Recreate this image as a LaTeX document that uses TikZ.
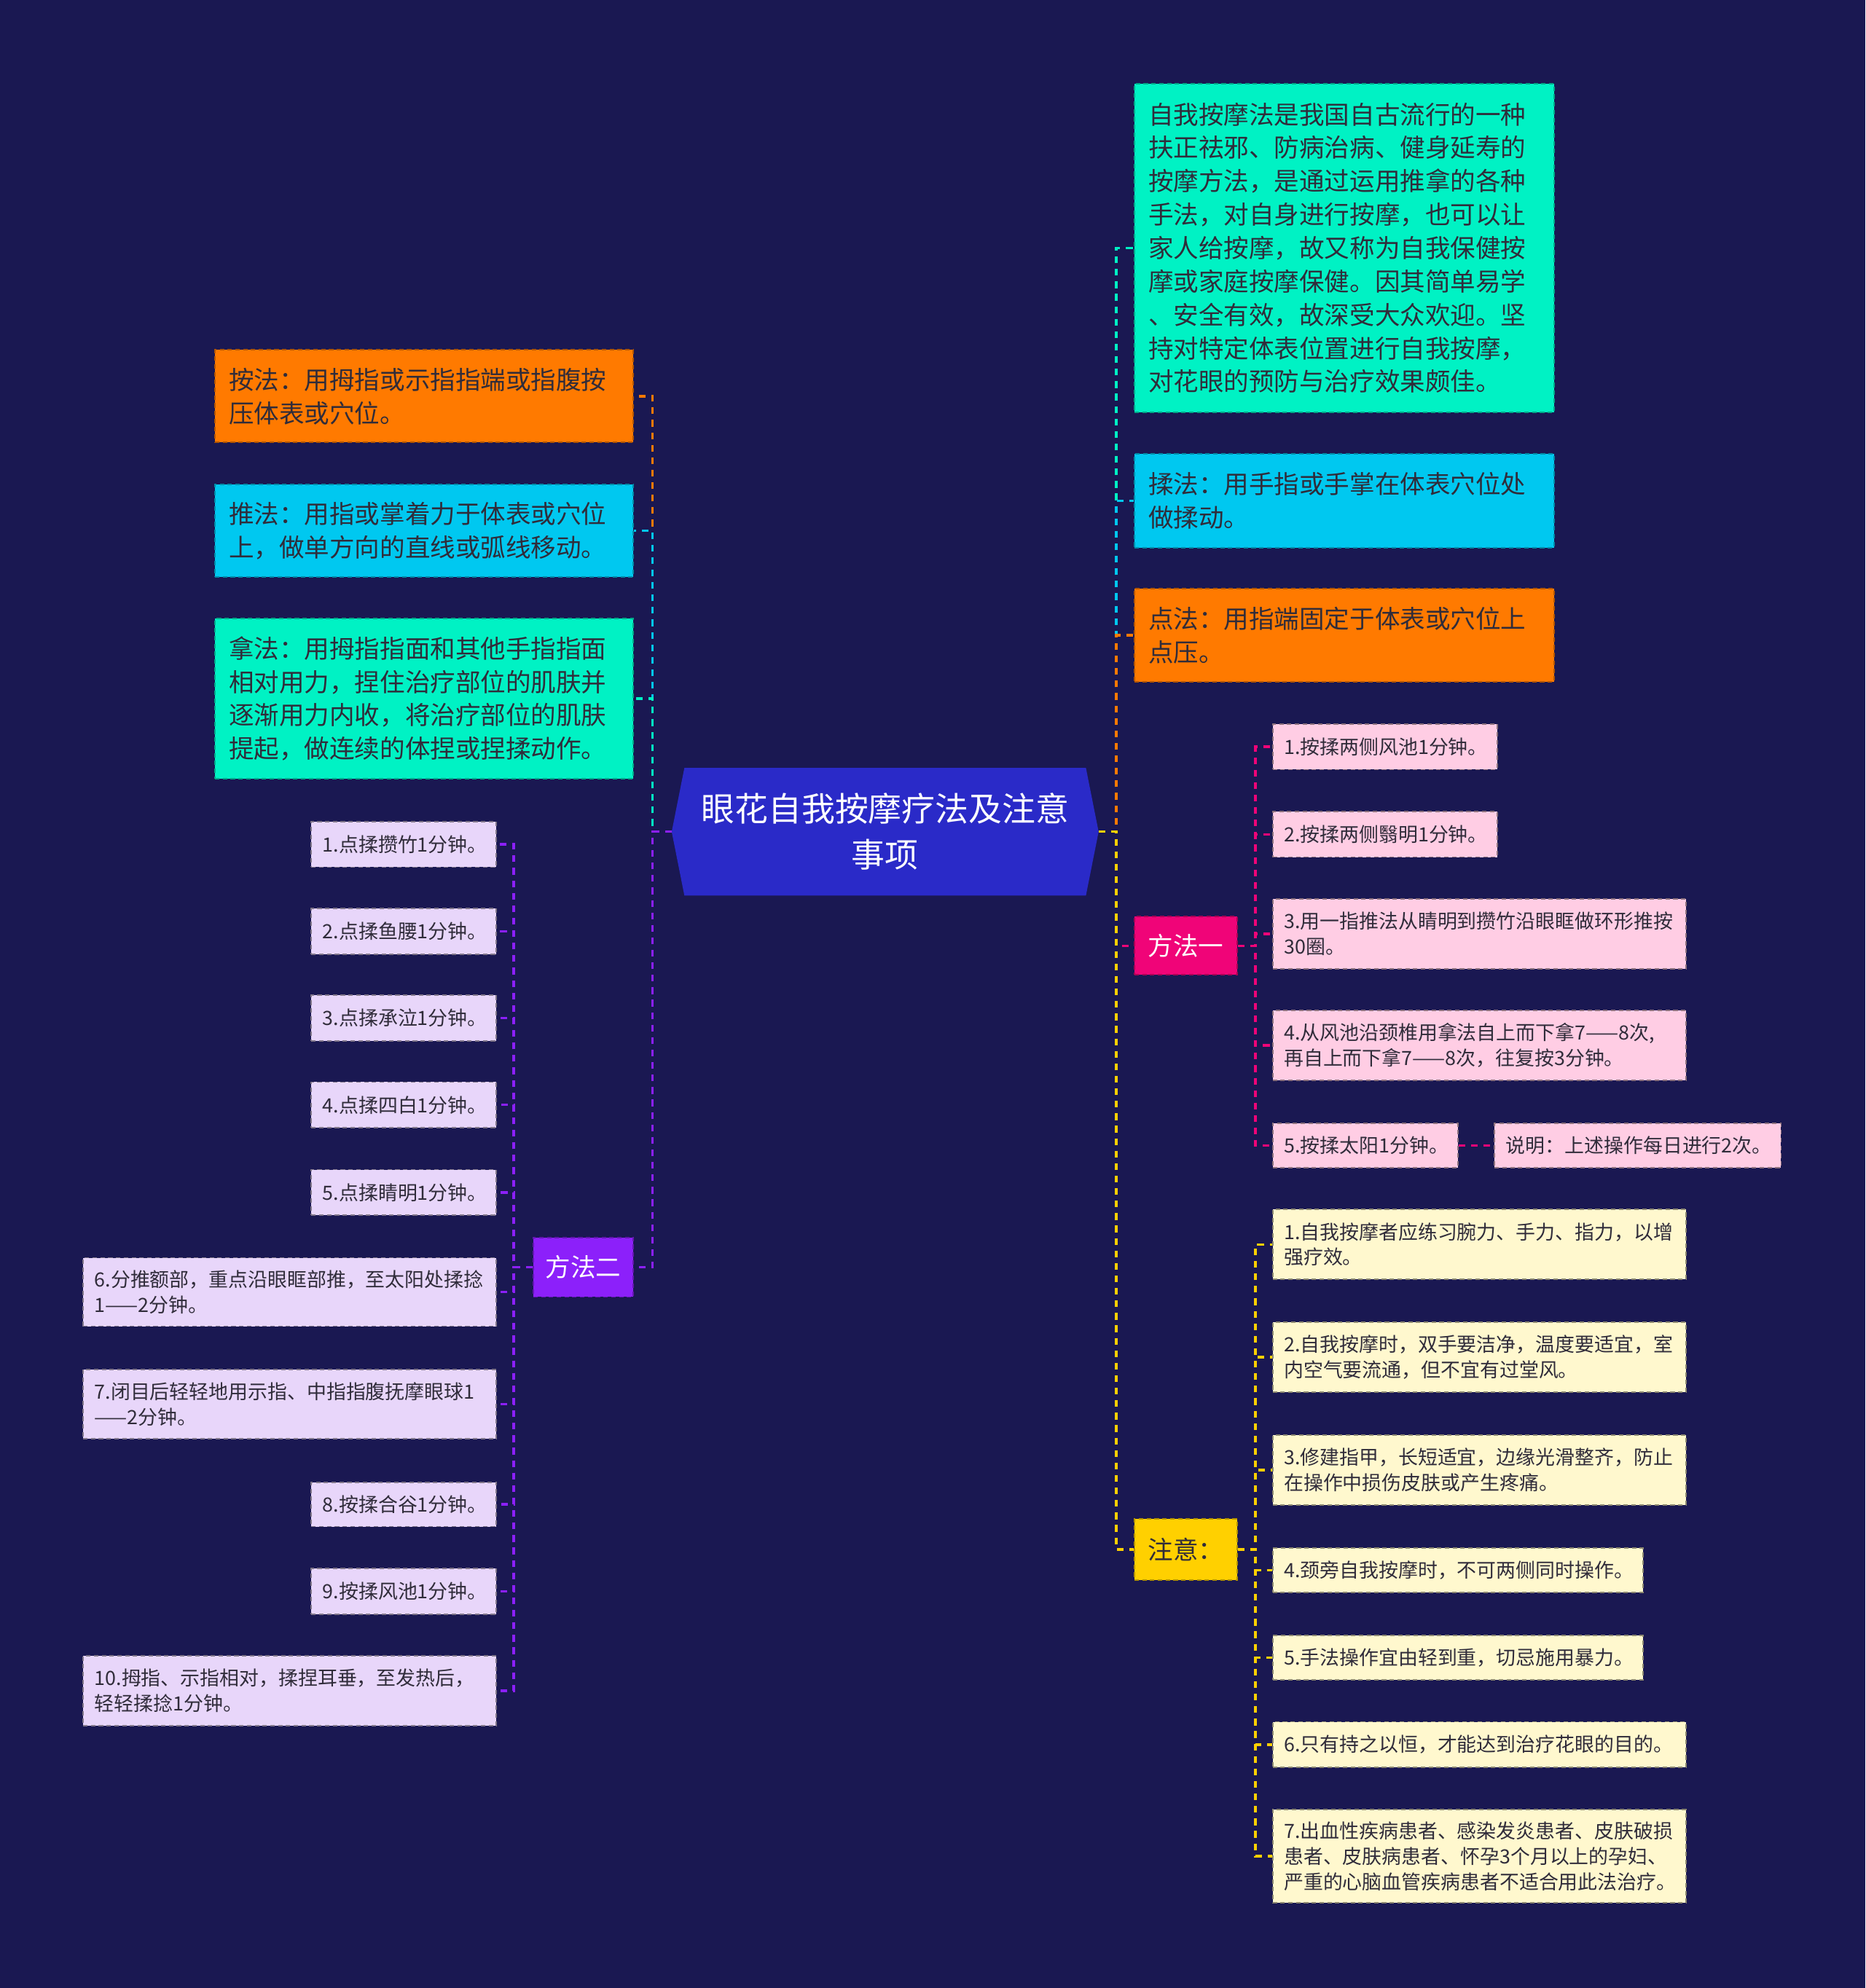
\documentclass[tikz,border=0pt]{standalone}
\usepackage{fontspec}
\setmainfont{Noto Sans CJK SC}
\usepackage{xcolor}
\usepackage{tikz}
\usetikzlibrary{backgrounds}
\definecolor{navybg}{RGB}{26, 24, 82}
\definecolor{hubblue}{RGB}{42, 42, 200}
\definecolor{fillorange}{RGB}{255, 122, 0}
\definecolor{fillcyan}{RGB}{0, 200, 240}
\definecolor{fillmint}{RGB}{0, 242, 196}
\definecolor{fillmagenta}{RGB}{240, 4, 120}
\definecolor{fillviolet}{RGB}{140, 32, 250}
\definecolor{fillyellow}{RGB}{255, 208, 0}
\definecolor{paleviolet}{RGB}{232, 214, 250}
\definecolor{palepink}{RGB}{255, 205, 228}
\definecolor{paleyellow}{RGB}{255, 248, 206}
\definecolor{inkgray}{RGB}{48, 44, 58}
\tikzset{
  link/.style={draw=#1, line width=1.1pt, dash pattern=on 3pt off 2.6pt},
  bigbox/.style={draw=#1!70!black, fill=#1, line width=0.6pt, dash pattern=on 2pt off 1.5pt,
    inner xsep=0.22cm, inner ysep=0.1cm, text=inkgray, align=left, text width=6.18cm,
    font=\fontsize{11.3}{15}\selectfont},
  hubbox/.style={draw=#1!70!black, fill=#1, line width=0.6pt, dash pattern=on 2pt off 1.5pt,
    inner sep=0.1cm, minimum width=1.6cm, minimum height=0.93cm,
    font=\fontsize{11.3}{15}\selectfont},
  leafbox/.style={draw=#1!55!black, fill=#1, line width=0.6pt, dash pattern=on 2pt off 1.5pt,
    inner xsep=0.18cm, inner ysep=0.1cm, text=inkgray, align=left,
    font=\fontsize{8.8}{11.4}\selectfont}
}
\begin{document}
\begin{tikzpicture}[x=0.02cm, y=-0.02cm]
    \useasboundingbox (0,0) rectangle (1471,1568);
    % central topic
    \node[text=white, align=center, minimum width=6.72cm, minimum height=2cm, font=\fontsize{15}{20.5}\selectfont] (ctr) at (698,656) {眼花自我按摩疗法及注意\\事项};

    % left side: three techniques and method two
    \node[bigbox=fillorange, text width=6.16cm, minimum height=1.46cm, anchor=east] (anfa) at (500,312.5) {按法：用拇指或示指指端或指腹按\\压体表或穴位。};
    \node[bigbox=fillcyan, text width=6.16cm, minimum height=1.46cm, anchor=east] (tuifa) at (500,418.5) {推法：用指或掌着力于体表或穴位\\上，做单方向的直线或弧线移动。};
    \node[bigbox=fillmint, text width=6.16cm, minimum height=2.52cm, anchor=east] (nafa) at (500,551) {拿法：用拇指指面和其他手指指面\\相对用力，捏住治疗部位的肌肤并\\逐渐用力内收，将治疗部位的肌肤\\提起，做连续的体捏或捏揉动作。};
    \node[hubbox=fillviolet, text=white, minimum width=1.58cm, minimum height=0.94cm, anchor=east] (m2) at (500,999.5) {方法二};

    \node[leafbox=paleviolet, text width=2.56cm, minimum height=0.72cm, anchor=east] (b1) at (392,666) {1.点揉攒竹1分钟。};
    \node[leafbox=paleviolet, text width=2.56cm, minimum height=0.72cm, anchor=east] (b2) at (392,734.5) {2.点揉鱼腰1分钟。};
    \node[leafbox=paleviolet, text width=2.56cm, minimum height=0.72cm, anchor=east] (b3) at (392,803) {3.点揉承泣1分钟。};
    \node[leafbox=paleviolet, text width=2.56cm, minimum height=0.72cm, anchor=east] (b4) at (392,871.5) {4.点揉四白1分钟。};
    \node[leafbox=paleviolet, text width=2.56cm, minimum height=0.72cm, anchor=east] (b5) at (392,940.5) {5.点揉睛明1分钟。};
    \node[leafbox=paleviolet, text width=6.16cm, minimum height=1.08cm, anchor=east] (b6) at (392,1019) {6.分推额部，重点沿眼眶部推，至太阳处揉捻\\1——2分钟。};
    \node[leafbox=paleviolet, text width=6.16cm, minimum height=1.1cm, anchor=east] (b7) at (392,1107.5) {7.闭目后轻轻地用示指、中指指腹抚摩眼球1\\——2分钟。};
    \node[leafbox=paleviolet, text width=2.56cm, minimum height=0.7cm, anchor=east] (b8) at (392,1186.5) {8.按揉合谷1分钟。};
    \node[leafbox=paleviolet, text width=2.56cm, minimum height=0.72cm, anchor=east] (b9) at (392,1255) {9.按揉风池1分钟。};
    \node[leafbox=paleviolet, text width=6.16cm, minimum height=1.1cm, anchor=east] (b10) at (392,1333.5) {10.拇指、示指相对，揉捏耳垂，至发热后，\\轻轻揉捻1分钟。};

    % right side: intro, techniques, method one, notes
    \node[bigbox=fillmint, minimum height=5.18cm, anchor=west] (intro) at (894,195.5) {自我按摩法是我国自古流行的一种\\扶正祛邪、防病治病、健身延寿的\\按摩方法，是通过运用推拿的各种\\手法，对自身进行按摩，也可以让\\家人给按摩，故又称为自我保健按\\摩或家庭按摩保健。因其简单易学\\、安全有效，故深受大众欢迎。坚\\持对特定体表位置进行自我按摩，\\对花眼的预防与治疗效果颇佳。};
    \node[bigbox=fillcyan, minimum height=1.48cm, anchor=west] (roufa) at (894,395) {揉法：用手指或手掌在体表穴位处\\做揉动。};
    \node[bigbox=fillorange, minimum height=1.48cm, anchor=west] (dianfa) at (894,501) {点法：用指端固定于体表或穴位上\\点压。};
    \node[hubbox=fillmagenta, text=white, minimum width=1.62cm, minimum height=0.92cm, anchor=west] (m1) at (894,746) {方法一};
    \node[hubbox=fillyellow, text=inkgray, minimum width=1.62cm, minimum height=0.96cm, anchor=west] (zy) at (894,1222) {注意：};

    \node[leafbox=palepink, text width=3.18cm, minimum height=0.72cm, anchor=west] (a1) at (1003,589) {1.按揉两侧风池1分钟。};
    \node[leafbox=palepink, text width=3.18cm, minimum height=0.72cm, anchor=west] (a2) at (1003,658) {2.按揉两侧翳明1分钟。};
    \node[leafbox=palepink, text width=6.16cm, minimum height=1.1cm, anchor=west] (a3) at (1003,736.5) {3.用一指推法从睛明到攒竹沿眼眶做环形推按\\30圈。};
    \node[leafbox=palepink, text width=6.16cm, minimum height=1.1cm, anchor=west] (a4) at (1003,824.5) {4.从风池沿颈椎用拿法自上而下拿7——8次,\\再自上而下拿7——8次，往复按3分钟。};
    \node[leafbox=palepink, text width=2.56cm, minimum height=0.7cm, anchor=west] (a5) at (1003,903.5) {5.按揉太阳1分钟。};
    \node[leafbox=palepink, text width=4.16cm, minimum height=0.7cm, anchor=west] (note) at (1178,903.5) {说明：上述操作每日进行2次。};

    \node[leafbox=paleyellow, text width=6.16cm, minimum height=1.1cm, anchor=west] (c1) at (1003,981.5) {1.自我按摩者应练习腕力、手力、指力，以增\\强疗效。};
    \node[leafbox=paleyellow, text width=6.16cm, minimum height=1.1cm, anchor=west] (c2) at (1003,1070.5) {2.自我按摩时，双手要洁净，温度要适宜，室\\内空气要流通，但不宜有过堂风。};
    \node[leafbox=paleyellow, text width=6.16cm, minimum height=1.1cm, anchor=west] (c3) at (1003,1159.5) {3.修建指甲，长短适宜，边缘光滑整齐，防止\\在操作中损伤皮肤或产生疼痛。};
    \node[leafbox=paleyellow, text width=5.48cm, minimum height=0.7cm, anchor=west] (c4) at (1003,1238.5) {4.颈旁自我按摩时，不可两侧同时操作。};
    \node[leafbox=paleyellow, text width=5.48cm, minimum height=0.7cm, anchor=west] (c5) at (1003,1307.5) {5.手法操作宜由轻到重，切忌施用暴力。};
    \node[leafbox=paleyellow, text width=6.16cm, minimum height=0.72cm, anchor=west] (c6) at (1003,1376) {6.只有持之以恒，才能达到治疗花眼的目的。};
    \node[leafbox=paleyellow, text width=6.16cm, minimum height=1.48cm, anchor=west] (c7) at (1003,1464) {7.出血性疾病患者、感染发炎患者、皮肤破损\\患者、皮肤病患者、怀孕3个月以上的孕妇、\\严重的心脑血管疾病患者不适合用此法治疗。};

    % background and hexagon behind the central topic
    \begin{scope}[on background layer]
        \fill[navybg] (0,0) rectangle (1471,1568);
        \fill[hubblue] (ctr.west) -- ([xshift=0.2cm]ctr.north west) -- ([xshift=-0.2cm]ctr.north east) -- (ctr.east) -- ([xshift=-0.2cm]ctr.south east) -- ([xshift=0.2cm]ctr.south west) -- cycle;
    \end{scope}

    % connectors, left
    \draw[link=fillorange] (ctr.west) -- ++(-15,0) |- (anfa.east);
    \draw[link=fillcyan] (ctr.west) -- ++(-15,0) |- (tuifa.east);
    \draw[link=fillmint] (ctr.west) -- ++(-15,0) |- (nafa.east);
    \draw[link=fillviolet] (ctr.west) -- ++(-15,0) |- (m2.east);
    \foreach \leaf in {b1,b2,b3,b4,b5,b6,b7,b8,b9,b10}
        \draw[link=fillviolet] (m2.west) -- ++(-15,0) |- (\leaf.east);

    % connectors, right
    \draw[link=fillmint] (ctr.east) -- ++(14,0) |- (intro.west);
    \draw[link=fillcyan] (ctr.east) -- ++(14,0) |- (roufa.west);
    \draw[link=fillorange] (ctr.east) -- ++(14,0) |- (dianfa.west);
    \draw[link=fillmagenta] (ctr.east) -- ++(14,0) |- (m1.west);
    \draw[link=fillyellow] (ctr.east) -- ++(14,0) |- (zy.west);
    \foreach \leaf in {a1,a2,a3,a4,a5}
        \draw[link=fillmagenta] (m1.east) -- ++(14,0) |- (\leaf.west);
    \draw[link=fillmagenta] (a5.east) -- (note.west);
    \foreach \leaf in {c1,c2,c3,c4,c5,c6,c7}
        \draw[link=fillyellow] (zy.east) -- ++(14,0) |- (\leaf.west);
\end{tikzpicture}
\end{document}
